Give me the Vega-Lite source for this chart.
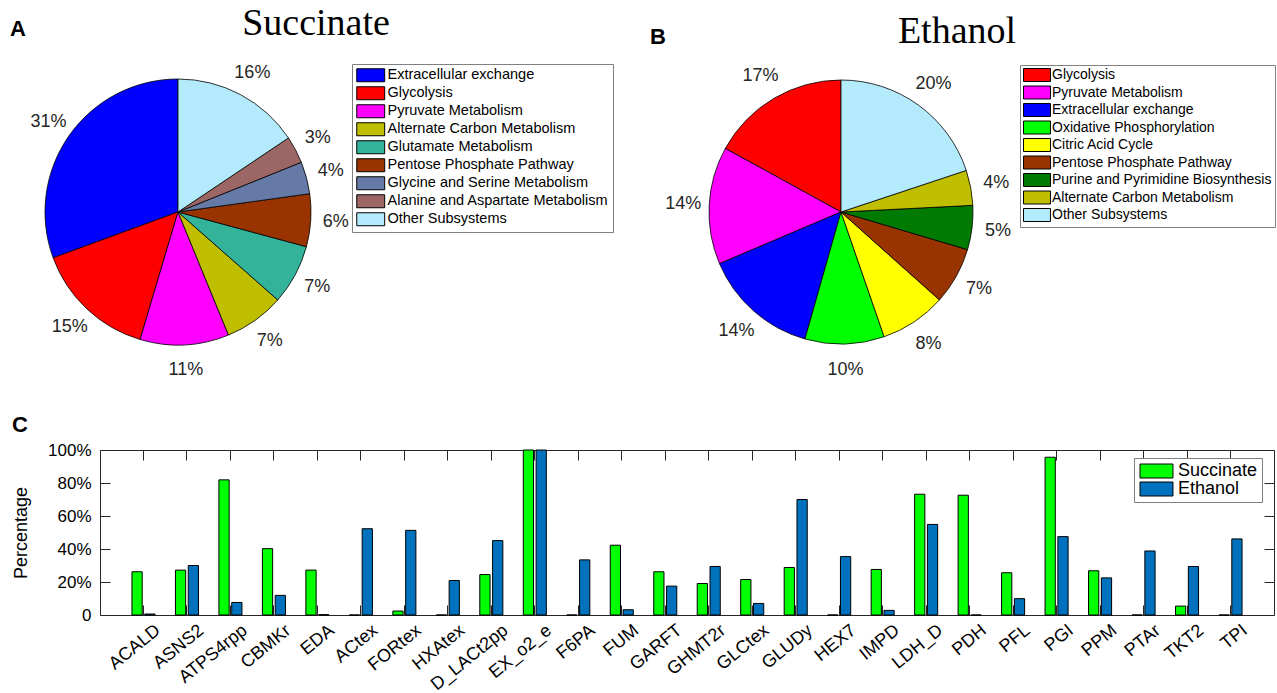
{
  "$schema": "https://vega.github.io/schema/vega-lite/v6.json",
  "background": "white",
  "padding": {"left": 10, "top": 4, "right": 0, "bottom": 0},
  "config": {
    "font": "Liberation Sans",
    "view": {"stroke": null},
    "axis": {"grid": false, "domainColor": "#262626", "tickColor": "#262626", "labelColor": "black", "titleColor": "black", "labelFont": "Liberation Sans", "titleFont": "Liberation Sans"},
    "legend": {"labelFont": "Liberation Sans", "labelColor": "black"},
    "title": {"color": "black", "baseline": "alphabetic"}
  },
  "datasets": {
    "succ": [
      {"subsystem": "Extracellular exchange", "pct": 30.6, "label": "31%", "ord": 0},
      {"subsystem": "Glycolysis", "pct": 14.8, "label": "15%", "ord": 1},
      {"subsystem": "Pyruvate Metabolism", "pct": 10.8, "label": "11%", "ord": 2},
      {"subsystem": "Alternate Carbon Metabolism", "pct": 7.3, "label": "7%", "ord": 3},
      {"subsystem": "Glutamate Metabolism", "pct": 7.3, "label": "7%", "ord": 4},
      {"subsystem": "Pentose Phosphate Pathway", "pct": 6.4, "label": "6%", "ord": 5},
      {"subsystem": "Glycine and Serine Metabolism", "pct": 3.9, "label": "4%", "ord": 6},
      {"subsystem": "Alanine and Aspartate Metabolism", "pct": 3.3, "label": "3%", "ord": 7},
      {"subsystem": "Other Subsystems", "pct": 15.6, "label": "16%", "ord": 8}
    ],
    "eth": [
      {"subsystem": "Glycolysis", "pct": 17.0, "label": "17%", "ord": 0},
      {"subsystem": "Pyruvate Metabolism", "pct": 14.4, "label": "14%", "ord": 1},
      {"subsystem": "Extracellular exchange", "pct": 14.2, "label": "14%", "ord": 2},
      {"subsystem": "Oxidative Phosphorylation", "pct": 9.7, "label": "10%", "ord": 3},
      {"subsystem": "Citric Acid Cycle", "pct": 8.1, "label": "8%", "ord": 4},
      {"subsystem": "Pentose Phosphate Pathway", "pct": 7.0, "label": "7%", "ord": 5},
      {"subsystem": "Purine and Pyrimidine Biosynthesis", "pct": 5.4, "label": "5%", "ord": 6},
      {"subsystem": "Alternate Carbon Metabolism", "pct": 4.3, "label": "4%", "ord": 7},
      {"subsystem": "Other Subsystems", "pct": 19.9, "label": "20%", "ord": 8}
    ],
    "bars": [
      {"reaction": "ACALD", "condition": "Succinate", "pct": 26.2},
      {"reaction": "ACALD", "condition": "Ethanol", "pct": 0.6},
      {"reaction": "ASNS2", "condition": "Succinate", "pct": 27.2},
      {"reaction": "ASNS2", "condition": "Ethanol", "pct": 30.0},
      {"reaction": "ATPS4rpp", "condition": "Succinate", "pct": 81.9},
      {"reaction": "ATPS4rpp", "condition": "Ethanol", "pct": 7.6},
      {"reaction": "CBMKr", "condition": "Succinate", "pct": 40.2},
      {"reaction": "CBMKr", "condition": "Ethanol", "pct": 11.9},
      {"reaction": "EDA", "condition": "Succinate", "pct": 27.2},
      {"reaction": "EDA", "condition": "Ethanol", "pct": 0.2},
      {"reaction": "ACtex", "condition": "Succinate", "pct": 0},
      {"reaction": "ACtex", "condition": "Ethanol", "pct": 52.3},
      {"reaction": "FORtex", "condition": "Succinate", "pct": 2.4},
      {"reaction": "FORtex", "condition": "Ethanol", "pct": 51.3},
      {"reaction": "HXAtex", "condition": "Succinate", "pct": 0},
      {"reaction": "HXAtex", "condition": "Ethanol", "pct": 20.9},
      {"reaction": "D_LACt2pp", "condition": "Succinate", "pct": 24.5},
      {"reaction": "D_LACt2pp", "condition": "Ethanol", "pct": 45.1},
      {"reaction": "EX_o2_e", "condition": "Succinate", "pct": 100},
      {"reaction": "EX_o2_e", "condition": "Ethanol", "pct": 100},
      {"reaction": "F6PA", "condition": "Succinate", "pct": 0},
      {"reaction": "F6PA", "condition": "Ethanol", "pct": 33.4},
      {"reaction": "FUM", "condition": "Succinate", "pct": 42.3},
      {"reaction": "FUM", "condition": "Ethanol", "pct": 3.2},
      {"reaction": "GARFT", "condition": "Succinate", "pct": 26.2},
      {"reaction": "GARFT", "condition": "Ethanol", "pct": 17.5},
      {"reaction": "GHMT2r", "condition": "Succinate", "pct": 19.1},
      {"reaction": "GHMT2r", "condition": "Ethanol", "pct": 29.4},
      {"reaction": "GLCtex", "condition": "Succinate", "pct": 21.5},
      {"reaction": "GLCtex", "condition": "Ethanol", "pct": 7.0},
      {"reaction": "GLUDy", "condition": "Succinate", "pct": 28.8},
      {"reaction": "GLUDy", "condition": "Ethanol", "pct": 70.0},
      {"reaction": "HEX7", "condition": "Succinate", "pct": 0},
      {"reaction": "HEX7", "condition": "Ethanol", "pct": 35.4},
      {"reaction": "IMPD", "condition": "Succinate", "pct": 27.6},
      {"reaction": "IMPD", "condition": "Ethanol", "pct": 2.8},
      {"reaction": "LDH_D", "condition": "Succinate", "pct": 73.2},
      {"reaction": "LDH_D", "condition": "Ethanol", "pct": 54.9},
      {"reaction": "PDH", "condition": "Succinate", "pct": 72.6},
      {"reaction": "PDH", "condition": "Ethanol", "pct": 0},
      {"reaction": "PFL", "condition": "Succinate", "pct": 25.6},
      {"reaction": "PFL", "condition": "Ethanol", "pct": 9.9},
      {"reaction": "PGI", "condition": "Succinate", "pct": 95.6},
      {"reaction": "PGI", "condition": "Ethanol", "pct": 47.5},
      {"reaction": "PPM", "condition": "Succinate", "pct": 26.8},
      {"reaction": "PPM", "condition": "Ethanol", "pct": 22.5},
      {"reaction": "PTAr", "condition": "Succinate", "pct": 0},
      {"reaction": "PTAr", "condition": "Ethanol", "pct": 38.8},
      {"reaction": "TKT2", "condition": "Succinate", "pct": 5.4},
      {"reaction": "TKT2", "condition": "Ethanol", "pct": 29.4},
      {"reaction": "TPI", "condition": "Succinate", "pct": 0},
      {"reaction": "TPI", "condition": "Ethanol", "pct": 46.1}
    ]
  },
  "vconcat": [
    {
      "hconcat": [
        {
          "title": {"text": "A", "anchor": "start", "frame": "group", "dx": -90, "dy": 40, "fontSize": 22, "fontWeight": "bold", "font": "Liberation Sans"},
          "vconcat": [
            {
              "width": 156,
              "height": 270,
              "title": {"text": "Succinate", "font": "Liberation Serif", "fontSize": 38, "fontWeight": "normal", "anchor": "middle", "frame": "group", "dx": 138, "offset": 21},
              "data": {"name": "succ"},
              "encoding": {
                "theta": {"field": "pct", "type": "quantitative", "stack": true},
                "order": {"field": "ord", "type": "quantitative", "sort": "descending"}
              },
              "layer": [
                {
                  "mark": {"type": "arc", "outerRadius": 133, "stroke": "black", "strokeWidth": 0.8},
                  "encoding": {
                    "color": {
                      "field": "subsystem", "type": "nominal",
                      "scale": {
                        "domain": ["Extracellular exchange", "Glycolysis", "Pyruvate Metabolism", "Alternate Carbon Metabolism", "Glutamate Metabolism", "Pentose Phosphate Pathway", "Glycine and Serine Metabolism", "Alanine and Aspartate Metabolism", "Other Subsystems"],
                        "range": ["#0000FF", "#FF0000", "#FF00FF", "#BFBF00", "#33B399", "#993300", "#667AA8", "#9C6664", "#B3EBFD"]
                      },
                      "legend": {"orient": "none", "legendX": 252, "legendY": -13, "title": null, "labelFontSize": 14.5, "labelLimit": 400, "symbolType": "M-1,-1H3.3V1H-1Z", "symbolSize": 169, "symbolStrokeColor": "black", "symbolStrokeWidth": 1, "symbolOpacity": 1, "strokeColor": "#808080", "fillColor": "white", "padding": 4, "rowPadding": 0, "labelOffset": 17}
                    }
                  }
                },
                {
                  "mark": {"type": "text", "radius": 158, "fontSize": 18, "color": "#262626"},
                  "encoding": {
                    "text": {"field": "label"},
                    "detail": {"field": "subsystem"}
                  }
                }
              ]
            }
          ],
          "bounds": "flush"
        },
        {
          "title": {"text": "B", "anchor": "start", "frame": "group", "dx": -113, "dy": 40, "fontSize": 22, "fontWeight": "bold", "font": "Liberation Sans"},
          "vconcat": [
            {
              "width": 156,
              "height": 270,
              "title": {"text": "Ethanol", "font": "Liberation Serif", "fontSize": 38, "fontWeight": "normal", "anchor": "middle", "frame": "group", "dx": 116, "offset": 16},
              "data": {"name": "eth"},
              "encoding": {
                "theta": {"field": "pct", "type": "quantitative", "stack": true},
                "order": {"field": "ord", "type": "quantitative", "sort": "descending"}
              },
              "layer": [
                {
                  "mark": {"type": "arc", "outerRadius": 132, "stroke": "black", "strokeWidth": 0.8},
                  "encoding": {
                    "color": {
                      "field": "subsystem", "type": "nominal",
                      "scale": {
                        "domain": ["Glycolysis", "Pyruvate Metabolism", "Extracellular exchange", "Oxidative Phosphorylation", "Citric Acid Cycle", "Pentose Phosphate Pathway", "Purine and Pyrimidine Biosynthesis", "Alternate Carbon Metabolism", "Other Subsystems"],
                        "range": ["#FF0000", "#FF00FF", "#0000FF", "#00FF00", "#FFFF00", "#993300", "#007A00", "#BFBF00", "#B3EBFD"]
                      },
                      "legend": {"orient": "none", "legendX": 257, "legendY": -12, "title": null, "labelFontSize": 14, "labelLimit": 400, "symbolType": "M-1,-1H3.15V1H-1Z", "symbolSize": 169, "symbolStrokeColor": "black", "symbolStrokeWidth": 1, "symbolOpacity": 1, "strokeColor": "#808080", "fillColor": "white", "padding": 3, "rowPadding": -0.5, "labelOffset": 15}
                    }
                  }
                },
                {
                  "mark": {"type": "text", "radius": 158, "fontSize": 18, "color": "#262626"},
                  "encoding": {
                    "text": {"field": "label"},
                    "detail": {"field": "subsystem"}
                  }
                }
              ]
            }
          ],
          "bounds": "flush"
        }
      ],
      "spacing": 663,
      "bounds": "flush",
      "resolve": {"scale": {"color": "independent", "theta": "independent"}, "legend": {"color": "independent"}}
    },
    {
      "width": 1174,
      "height": 165,
      "title": {"text": "C", "anchor": "start", "frame": "group", "dx": -88, "offset": 4, "fontSize": 22, "fontWeight": "bold", "font": "Liberation Sans"},
      "data": {"name": "bars"},
      "layer": [
        {
          "mark": {"type": "bar", "stroke": "black", "strokeWidth": 1},
          "encoding": {
            "x": {"field": "reaction", "type": "nominal", "sort": null, "scale": {"paddingInner": 0.47, "paddingOuter": 0.735},
                  "axis": {"orient": "bottom", "title": null, "labelAngle": -39, "labelFontSize": 18, "tickSize": -10, "labelPadding": 16, "labelOffset": 9, "domain": true}},
            "xOffset": {"field": "condition", "type": "nominal", "sort": ["Succinate", "Ethanol"], "scale": {"paddingInner": 0.2, "paddingOuter": 0}},
            "y": {"field": "pct", "type": "quantitative", "scale": {"domain": [0, 100], "nice": false},
                  "axis": {"orient": "left", "values": [0, 20, 40, 60, 80, 100], "labelExpr": "datum.value == 0 ? '0' : datum.value + '%'", "labelFontSize": 17, "tickSize": -10, "labelPadding": 19, "title": "Percentage", "titleFontSize": 18, "titleFontWeight": "normal", "titlePadding": 17, "domain": true}},
            "color": {"field": "condition", "type": "nominal", "scale": {"domain": ["Succinate", "Ethanol"], "range": ["#00FF00", "#0072BD"]},
                      "legend": {"orient": "none", "legendX": 1034, "legendY": 8, "title": null, "labelFontSize": 18, "symbolType": "M-1,-1H3.71V1H-1Z", "symbolSize": 196, "symbolStrokeColor": "black", "symbolStrokeWidth": 1, "symbolOpacity": 1, "strokeColor": "#808080", "fillColor": "white", "padding": 4, "rowPadding": -3, "labelOffset": 22}}
          }
        },
        {
          "mark": {"type": "bar", "opacity": 0},
          "encoding": {
            "x": {"field": "reaction", "type": "nominal", "sort": null, "scale": {"paddingInner": 0.47, "paddingOuter": 0.735},
                  "axis": {"orient": "top", "title": null, "labels": false, "tickSize": -10, "domain": true}},
            "xOffset": {"field": "condition", "type": "nominal", "sort": ["Succinate", "Ethanol"], "scale": {"paddingInner": 0.2, "paddingOuter": 0}},
            "y": {"field": "pct", "type": "quantitative", "scale": {"domain": [0, 100], "nice": false},
                  "axis": {"orient": "right", "values": [0, 20, 40, 60, 80, 100], "labels": false, "tickSize": -10, "title": null, "domain": true}}
          }
        }
      ],
      "resolve": {"axis": {"x": "independent", "y": "independent"}}
    }
  ],
  "spacing": 373,
  "bounds": "flush",
  "resolve": {"scale": {"color": "independent", "theta": "independent"}, "legend": {"color": "independent"}}
}
